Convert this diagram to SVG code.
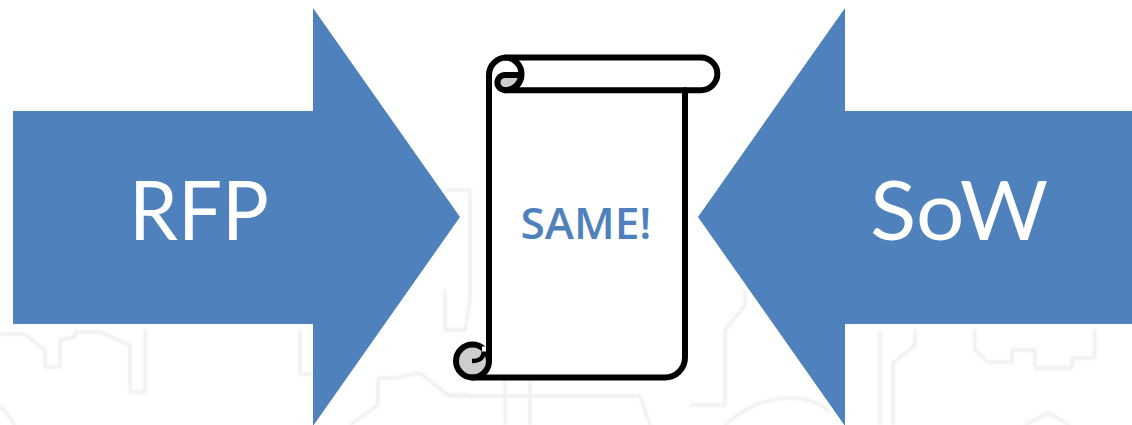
<svg xmlns="http://www.w3.org/2000/svg" width="1132" height="425" viewBox="0 0 1132 425">
<defs>
<filter id="soft" x="-5%" y="-5%" width="110%" height="110%"><feGaussianBlur stdDeviation="1.2"/></filter>
</defs>
<style>
.bg{fill:none;stroke:#eceef0;stroke-width:3;stroke-linejoin:round}
.arrow{fill:#4f81bd}
.big{font-family:"Lato","Open Sans",sans-serif;font-size:81px;fill:#fff;text-anchor:middle}
.same{font-family:"Open Sans","Lato",sans-serif;font-size:43px;font-weight:600;fill:#4f81bd;text-anchor:middle}
.line{fill:none;stroke:#000;stroke-width:6;stroke-linejoin:round;stroke-linecap:round}
.fold{fill:#cdcdcd;stroke:#000;stroke-width:6;stroke-linejoin:round}
</style>
<rect width="1132" height="425" fill="#fff"/>
<g id="background" filter="url(#soft)">
<path class="bg" d="M0 334H25L45 350V367H60V340L75 337V332H100L130 345V392H145V330"/>
<path class="bg" d="M300 330V374H312"/>
<path class="bg" d="M0 405L15 425"/>
<path class="bg" d="M350 425L378 405V378H395L420 373L448 395H470"/>
<path class="bg" d="M445 190H470V300L465 330H445V290"/>
<path class="bg" d="M450 396H640L650 425"/>
<path class="bg" d="M505 380V425M530 380V425"/>
<path class="bg" d="M690 405H725V330L745 305V290"/>
<path class="bg" d="M725 425Q755 398 790 398Q815 398 830 412"/>
<path class="bg" d="M880 330V425M893 425V363L915 345V330"/>
<path class="bg" d="M975 330V350L988 362H1012V350H1035V368H1072V358H1095V330"/>
<path class="bg" d="M1025 425L1048 413L1070 425"/>
</g>
<g id="rfp">
<path class="arrow" d="M13 111H313V8L460 217L313 426V324H13Z"/>
<text class="big" x="199" y="240" textLength="140" lengthAdjust="spacingAndGlyphs">RFP</text>
</g>
<g id="sow">
<path class="arrow" d="M1132 111H845V8L698 217L845 426V324H1132Z"/>
<text class="big" x="959" y="240" textLength="178" lengthAdjust="spacingAndGlyphs">SoW</text>
</g>
<g id="scroll">
<path d="M489 75A16.500 16.500 0 0 1 505.500 57.500H701A16.500 16.500 0 0 1 701 90.200H685V357.500A20 20 0 0 1 665 377.500H472V345H489Z" fill="#fff"/>
<circle class="fold" cx="472.500" cy="361" r="16.500"/>
<path d="M472 361C480 361 484 358 484 349" fill="none" stroke="#000" stroke-width="4.500"/>
<path d="M482 346.500L487 346.500L487 351.500L482 351.500Z" fill="#fff"/>
<path class="fold" d="M505 90.200A7.600 7.600 0 0 1 505 75H521C521 83 514 90.200 505 90.200Z"/>
<path class="line" d="M489 361V75A17.500 17.500 0 0 1 506.500 57.500H701A16.350 16.350 0 0 1 701 90.200H505M505 57.500A16.500 16.500 0 0 1 521.500 74C521.500 83 515 90.200 505 90.200"/>
<path class="line" d="M685 90.200V357.500A20 20 0 0 1 665 377.500H472"/>
<text class="same" x="586" y="239" textLength="131" lengthAdjust="spacingAndGlyphs">SAME!</text>
</g>
</svg>
